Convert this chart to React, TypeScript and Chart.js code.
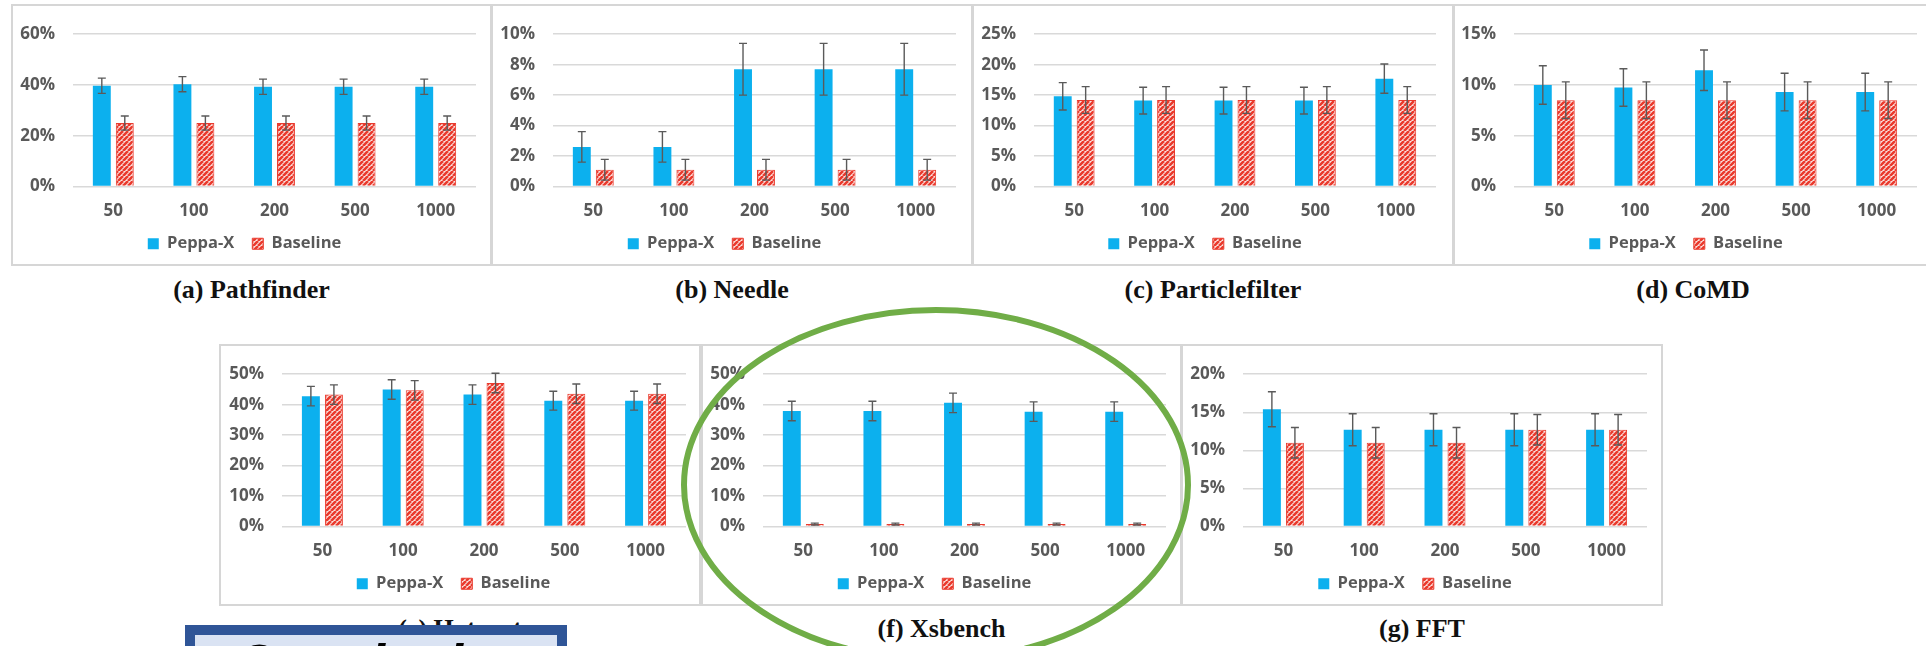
import React, { useEffect, useRef } from "react";
import { Chart, registerables } from "chart.js";

Chart.register(...registerables);

// ---------- data ----------
const categories = ["50", "100", "200", "500", "1000"];
const seriesNames = ["Peppa-X", "Baseline"];

const pathfinderPeppa = [39.7, 40.3, 39.3, 39.3, 39.3];
const pathfinderPeppaErr = [3.0, 3.0, 3.0, 3.0, 3.0];
const pathfinderBase = [25.0, 25.0, 25.0, 25.0, 25.0];
const pathfinderBaseErr = [2.8, 2.8, 2.8, 2.8, 2.8];

const needlePeppa = [2.6, 2.6, 7.7, 7.7, 7.7];
const needlePeppaErr = [1.0, 1.0, 1.7, 1.7, 1.7];
const needleBase = [1.1, 1.1, 1.1, 1.1, 1.1];
const needleBaseErr = [0.68, 0.68, 0.68, 0.68, 0.68];

const particlePeppa = [14.8, 14.1, 14.1, 14.1, 17.7];
const particlePeppaErr = [2.25, 2.2, 2.2, 2.2, 2.4];
const particleBase = [14.2, 14.2, 14.2, 14.2, 14.2];
const particleBaseErr = [2.2, 2.2, 2.2, 2.2, 2.2];

const comdPeppa = [10.0, 9.75, 11.45, 9.3, 9.3];
const comdPeppaErr = [1.9, 1.85, 2.0, 1.85, 1.85];
const comdBase = [8.5, 8.5, 8.5, 8.5, 8.5];
const comdBaseErr = [1.8, 1.8, 1.8, 1.8, 1.8];

const hotspotPeppa = [42.8, 45.0, 43.3, 41.3, 41.3];
const hotspotPeppaErr = [3.2, 3.2, 3.2, 3.1, 3.1];
const hotspotBase = [43.3, 44.7, 47.1, 43.6, 43.6];
const hotspotBaseErr = [3.2, 3.2, 3.2, 3.2, 3.2];

const xsbenchPeppa = [37.9, 37.9, 40.6, 37.7, 37.7];
const xsbenchPeppaErr = [3.2, 3.2, 3.2, 3.2, 3.2];
const xsbenchBase = [0.8, 0.8, 0.8, 0.8, 0.8];
const xsbenchBaseErr = [0.3, 0.3, 0.3, 0.3, 0.3];

const fftPeppa = [15.4, 12.7, 12.7, 12.7, 12.7];
const fftPeppaErr = [2.3, 2.1, 2.1, 2.1, 2.1];
const fftBase = [11.0, 11.0, 11.0, 12.7, 12.7];
const fftBaseErr = [2.0, 2.0, 2.0, 2.0, 2.0];

const yMaxes = [60, 10, 25, 15, 50, 50, 20];
const ySteps = [20, 2, 5, 5, 10, 10, 5];
const captions = [
  "(a) Pathfinder",
  "(b) Needle",
  "(c) Particlefilter",
  "(d) CoMD",
  "(e) Hotspot",
  "(f) Xsbench",
  "(g) FFT",
];

// ---------- layout (page px) ----------
type Spec = {
  left: number; top: number; w: number;
  plotLeft: number; plotRight: number; padTop: number;
  peppa: number[]; peppaErr: number[]; base: number[]; baseErr: number[];
  max: number; step: number; caption: string; capTop: number;
};

const BOX_H = 262;
const specs: Spec[] = [
  { left: 11, top: 4, w: 481, plotLeft: 73, plotRight: 476, padTop: 16, peppa: pathfinderPeppa, peppaErr: pathfinderPeppaErr, base: pathfinderBase, baseErr: pathfinderBaseErr, max: yMaxes[0], step: ySteps[0], caption: captions[0], capTop: 277 },
  { left: 491, top: 4, w: 482, plotLeft: 553, plotRight: 956, padTop: 16, peppa: needlePeppa, peppaErr: needlePeppaErr, base: needleBase, baseErr: needleBaseErr, max: yMaxes[1], step: ySteps[1], caption: captions[1], capTop: 277 },
  { left: 972, top: 4, w: 482, plotLeft: 1034, plotRight: 1436, padTop: 16, peppa: particlePeppa, peppaErr: particlePeppaErr, base: particleBase, baseErr: particleBaseErr, max: yMaxes[2], step: ySteps[2], caption: captions[2], capTop: 277 },
  { left: 1453, top: 4, w: 480, plotLeft: 1514, plotRight: 1917, padTop: 16, peppa: comdPeppa, peppaErr: comdPeppaErr, base: comdBase, baseErr: comdBaseErr, max: yMaxes[3], step: ySteps[3], caption: captions[3], capTop: 277 },
  { left: 219, top: 344, w: 482, plotLeft: 282, plotRight: 686, padTop: 15, peppa: hotspotPeppa, peppaErr: hotspotPeppaErr, base: hotspotBase, baseErr: hotspotBaseErr, max: yMaxes[4], step: ySteps[4], caption: captions[4], capTop: 616 },
  { left: 701, top: 344, w: 481, plotLeft: 763, plotRight: 1166, padTop: 15, peppa: xsbenchPeppa, peppaErr: xsbenchPeppaErr, base: xsbenchBase, baseErr: xsbenchBaseErr, max: yMaxes[5], step: ySteps[5], caption: captions[5], capTop: 616 },
  { left: 1181, top: 344, w: 482, plotLeft: 1243, plotRight: 1647, padTop: 15, peppa: fftPeppa, peppaErr: fftPeppaErr, base: fftBase, baseErr: fftBaseErr, max: yMaxes[6], step: ySteps[6], caption: captions[6], capTop: 616 },
];

const BLUE = "#0cb0ee";
const RED = "#ea3a2d";
const TEXT = "#595959";
const GRID = "#d9d9d9";
const FONT = { family: "'Open Sans', 'Noto Sans', sans-serif", size: 17, weight: "bold" as const };

function makeHatch(): CanvasPattern | string {
  const c = document.createElement("canvas");
  c.width = 5;
  c.height = 5;
  const g = c.getContext("2d");
  if (!g) return RED;
  g.fillStyle = "#fbe3e0";
  g.fillRect(0, 0, 5, 5);
  g.strokeStyle = RED;
  g.lineWidth = 2.6;
  g.beginPath();
  for (let k = -5; k <= 5; k += 5) {
    g.moveTo(k, 5);
    g.lineTo(k + 5, 0);
  }
  g.stroke();
  return g.createPattern(c, "repeat") || RED;
}

const errorBarPlugin = {
  id: "errorBars",
  afterDatasetsDraw(chart: any) {
    const ctx = chart.ctx;
    const y = chart.scales.y;
    chart.data.datasets.forEach((ds: any, di: number) => {
      const meta = chart.getDatasetMeta(di);
      const errs: number[] = ds.errors || [];
      meta.data.forEach((bar: any, i: number) => {
        const v = ds.data[i];
        const e = errs[i] || 0;
        const top = y.getPixelForValue(v + e);
        const bot = y.getPixelForValue(v - e);
        const x = bar.x;
        ctx.save();
        ctx.strokeStyle = "#5a5a5a";
        ctx.lineWidth = 1.4;
        ctx.beginPath();
        ctx.moveTo(x, top);
        ctx.lineTo(x, bot);
        ctx.moveTo(x - 4, top);
        ctx.lineTo(x + 4, top);
        ctx.moveTo(x - 4, bot);
        ctx.lineTo(x + 4, bot);
        ctx.stroke();
        ctx.restore();
      });
    });
  },
};

function Panel({ spec }: { spec: Spec }) {
  const ref = useRef<HTMLCanvasElement>(null);
  const cw = spec.w - 4;
  const ch = BOX_H - 4;
  useEffect(() => {
    if (!ref.current) return;
    const canvasLeft = spec.left + 2;
    const yW = spec.plotLeft - canvasLeft;
    const padRight = canvasLeft + cw - spec.plotRight;
    const hatch = makeHatch();
    const chart = new Chart(ref.current, {
      type: "bar",
      data: {
        labels: categories,
        datasets: [
          {
            label: seriesNames[0],
            data: spec.peppa,
            backgroundColor: BLUE,
            borderWidth: 0,
            errors: spec.peppaErr,
          } as any,
          {
            label: seriesNames[1],
            data: spec.base,
            backgroundColor: hatch,
            borderColor: RED,
            borderWidth: 1,
            errors: spec.baseErr,
          } as any,
        ],
      },
      options: {
        animation: false,
        responsive: false,
        devicePixelRatio: 1,
        layout: { padding: { top: spec.padTop, left: 0, right: padRight, bottom: 2 } },
        datasets: { bar: { categoryPercentage: 0.57, barPercentage: 0.78 } },
        plugins: {
          tooltip: { enabled: false },
          legend: {
            position: "bottom",
            labels: {
              boxWidth: 11,
              boxHeight: 11,
              padding: 18,
              color: TEXT,
              font: { ...FONT, size: 16.5 },
            },
          },
        },
        scales: {
          x: {
            grid: { display: false, drawTicks: false },
            border: { display: false },
            ticks: { padding: 14, color: TEXT, font: FONT, maxRotation: 0 },
            afterFit: (s: any) => {
              s.height = 31;
            },
          },
          y: {
            min: 0,
            max: spec.max,
            ticks: {
              stepSize: spec.step,
              padding: 18,
              color: TEXT,
              font: FONT,
              callback: (v: any) => `${v}%`,
            },
            grid: { color: GRID, lineWidth: 1.5, drawTicks: false },
            border: { display: false },
            afterFit: (s: any) => {
              s.width = yW;
            },
          },
        },
      } as any,
      plugins: [errorBarPlugin],
    });
    return () => chart.destroy();
  }, []);
  return (
    <>
      <div
        style={{
          position: "absolute",
          left: spec.left,
          top: spec.top,
          width: spec.w,
          height: BOX_H,
          border: "2px solid #d6d6d6",
          boxSizing: "border-box",
          background: "#fff",
        }}
      >
        <canvas ref={ref} width={cw} height={ch} style={{ display: "block", width: cw, height: ch }} />
      </div>
      <div
        style={{
          position: "absolute",
          left: spec.left + spec.w / 2 - 200,
          width: 400,
          top: spec.capTop,
          textAlign: "center",
          font: "bold 26px/26px 'Liberation Serif', 'DejaVu Serif', serif",
          color: "#111",
          whiteSpace: "nowrap",
        }}
      >
        {spec.caption}
      </div>
    </>
  );
}

export default function App() {
  return (
    <div
      style={{
        position: "absolute",
        left: 0,
        top: 0,
        width: 1926,
        height: 646,
        overflow: "hidden",
        background: "#fff",
      }}
    >
      {specs.map((s, i) => (
        <Panel key={i} spec={s} />
      ))}
      <div
        style={{
          position: "absolute",
          left: 185,
          top: 625,
          width: 382,
          height: 70,
          border: "10px solid #2f5597",
          boxSizing: "border-box",
          background: "#dae3f3",
          overflow: "hidden",
        }}
      >
        <div
          style={{
            position: "absolute",
            left: 40,
            top: 1,
            font: "italic bold 54px/54px 'Liberation Sans', Arial, sans-serif",
            color: "#000",
            whiteSpace: "nowrap",
          }}
        >
          Conclusion
        </div>
      </div>
      <svg
        width={1926}
        height={646}
        style={{ position: "absolute", left: 0, top: 0, pointerEvents: "none" }}
      >
        <ellipse cx={936} cy={485} rx={252} ry={175} fill="none" stroke="#70ad47" strokeWidth={6} />
      </svg>
    </div>
  );
}
